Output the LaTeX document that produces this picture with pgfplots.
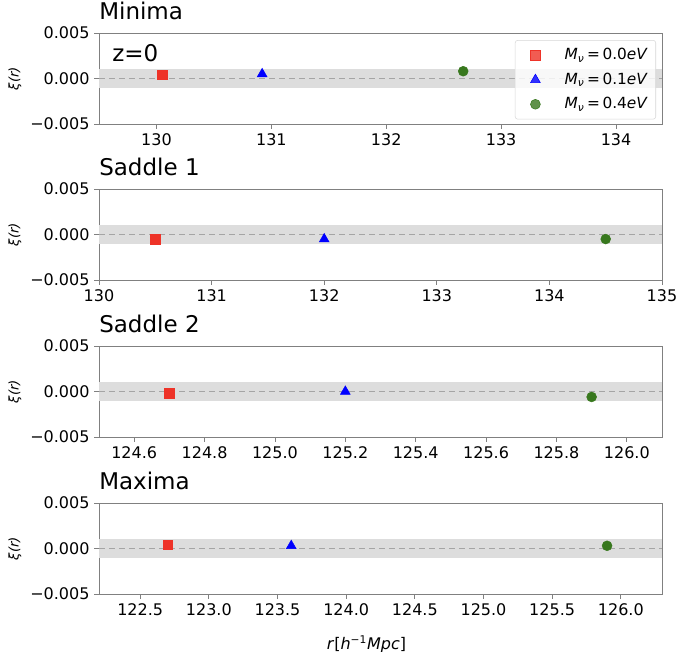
\documentclass[border=0pt]{standalone}
\usepackage{pgfplots}
\pgfplotsset{compat=1.18}
\usepackage{fontspec}
\setmainfont{DejaVu Sans}
\definecolor{cred}{RGB}{238,51,40}
\definecolor{cblue}{RGB}{0,0,255}
\definecolor{cgreen}{RGB}{56,120,30}
\definecolor{bandc}{RGB}{221,221,221}
\definecolor{zline}{RGB}{165,165,165}
\definecolor{framec}{RGB}{128,128,128}
\definecolor{legc}{RGB}{215,215,215}

\pgfplotsset{
  panel/.style={
    scale only axis, width=422.25pt, height=68.25pt,
    ymin=-0.005, ymax=0.005, ytick={-0.005,0,0.005},
    yticklabels={−0.005,0.000,0.005},
    scaled y ticks=false, scaled x ticks=false,
    tick pos=left, tick align=outside, major tick length=3.6pt,
    every tick/.style={framec, line width=0.6pt},
    axis line style={framec, line width=0.75pt},
    tick label style={font=\fontsize{12}{14}\selectfont},
    /pgf/number format/assume math mode=true,
    /pgf/number format/1000 sep={},
    ylabel={\textit{ξ(r)}},
    ylabel style={font=\fontsize{10}{12}\selectfont, at={(rel axis cs:0,0.5)}, anchor=center, xshift=0pt, yshift=0pt},
    title style={font=\fontsize{17.25}{20}\selectfont, at={(rel axis cs:0,1)}, anchor=base west, yshift=4.5pt, xshift=0pt, inner sep=0pt},
    clip=false,
  },
  pr/.style={only marks, mark=square*, mark size=3.6pt, color=cred},
  pb/.style={only marks, mark=triangle*, mark size=4.2pt, color=cblue},
  pg/.style={only marks, mark=*, mark size=3.7pt, color=cgreen},
}
\newcommand{\mnu}[1]{\textit{M}\textsubscript{\textit{ν}}\,=\,#1\textit{eV}\kern6pt}

\begin{document}
\begin{tikzpicture}
\path[use as bounding box] (0,0) rectangle (508.5pt,-488.25pt);

% Panel 1: Minima
\begin{axis}[panel, at={(74.25pt,-24.75pt)}, anchor=north west,
  title={Minima}, xmin=129.5, xmax=134.4, xtick={130,131,132,133,134},
  ylabel style={at={([xshift=-63pt]rel axis cs:0,0.5)}},
  legend image code/.code={\path (0pt,-6pt) (36.75pt,6pt);
    \draw[mark repeat=2,mark phase=2,#1] plot coordinates {(0pt,0pt) (15pt,0pt) (30pt,0pt)};},
  legend style={at={([xshift=-4.5pt,yshift=-5.25pt]rel axis cs:1,1)}, anchor=north east,
    draw=legc, rounded corners=2pt, fill=white, fill opacity=0.8, text opacity=1,
    font=\fontsize{11.5}{13}\selectfont, row sep=6pt, column sep=0pt,
    inner xsep=0pt, inner ysep=5pt,
    nodes={inner sep=0pt}},
  legend cell align=left]
\addplot[draw=none, fill=bandc, forget plot] coordinates {(129.5,-0.001) (134.4,-0.001) (134.4,0.001) (129.5,0.001)} -- cycle;
\addplot[zline, line width=0.75pt, dash pattern=on 4.5pt off 3pt, forget plot] coordinates {(129.5,0) (134.4,0)};
\addplot[pr] coordinates {(130.05,0.0004)};
\addlegendentry{\mnu{0.0}}
\addplot[pb] coordinates {(130.92,0.0005)};
\addlegendentry{\mnu{0.1}}
\addplot[pg] coordinates {(132.67,0.0008)};
\addlegendentry{\mnu{0.4}}
\node[anchor=base west, inner sep=0pt, font=\fontsize{17.25}{20}\selectfont] at ([xshift=9.75pt,yshift=-21pt]rel axis cs:0,1) {z=0};
\end{axis}

% Panel 2: Saddle 1
\begin{axis}[panel, at={(74.25pt,-141.75pt)}, anchor=north west,
  title={Saddle 1}, xmin=130, xmax=135, xtick={130,131,132,133,134,135},
  ylabel style={at={([xshift=-63pt]rel axis cs:0,0.5)}}]
\addplot[draw=none, fill=bandc, forget plot] coordinates {(130,-0.001) (135,-0.001) (135,0.001) (130,0.001)} -- cycle;
\addplot[zline, line width=0.75pt, dash pattern=on 4.5pt off 3pt, forget plot] coordinates {(130,0) (135,0)};
\addplot[pr] coordinates {(130.5,-0.0005)};
\addplot[pb] coordinates {(132.0,-0.0005)};
\addplot[pg] coordinates {(134.5,-0.0005)};
\end{axis}

% Panel 3: Saddle 2
\begin{axis}[panel, at={(74.25pt,-259.5pt)}, anchor=north west,
  title={Saddle 2}, xmin=124.5, xmax=126.1,
  xtick={124.6,124.8,125.0,125.2,125.4,125.6,125.8,126.0},
  xticklabel style={/pgf/number format/.cd, fixed, fixed zerofill, precision=1},
  ylabel style={at={([xshift=-63pt]rel axis cs:0,0.5)}}]
\addplot[draw=none, fill=bandc, forget plot] coordinates {(124.5,-0.001) (126.1,-0.001) (126.1,0.001) (124.5,0.001)} -- cycle;
\addplot[zline, line width=0.75pt, dash pattern=on 4.5pt off 3pt, forget plot] coordinates {(124.5,0) (126.1,0)};
\addplot[pr] coordinates {(124.7,-0.0002)};
\addplot[pb] coordinates {(125.2,0.0)};
\addplot[pg] coordinates {(125.9,-0.0006)};
\end{axis}

% Panel 4: Maxima
\begin{axis}[panel, at={(74.25pt,-377.25pt)}, anchor=north west,
  title={Maxima}, xmin=122.2, xmax=126.3,
  xtick={122.5,123.0,123.5,124.0,124.5,125.0,125.5,126.0},
  xticklabel style={/pgf/number format/.cd, fixed, fixed zerofill, precision=1},
  ylabel style={at={([xshift=-63pt]rel axis cs:0,0.5)}},
  xlabel={\textit{r}[\textit{h}\textsuperscript{−1}\textit{Mpc}]},
  xlabel style={font=\fontsize{12}{14}\selectfont, at={([xshift=-10.5pt,yshift=-37.5pt]rel axis cs:0.5,0)}, anchor=center}]
\addplot[draw=none, fill=bandc, forget plot] coordinates {(122.2,-0.001) (126.3,-0.001) (126.3,0.001) (122.2,0.001)} -- cycle;
\addplot[zline, line width=0.75pt, dash pattern=on 4.5pt off 3pt, forget plot] coordinates {(122.2,0) (126.3,0)};
\addplot[pr] coordinates {(122.7,0.0004)};
\addplot[pb] coordinates {(123.6,0.0003)};
\addplot[pg] coordinates {(125.9,0.0003)};
\end{axis}
\end{tikzpicture}
\end{document}
